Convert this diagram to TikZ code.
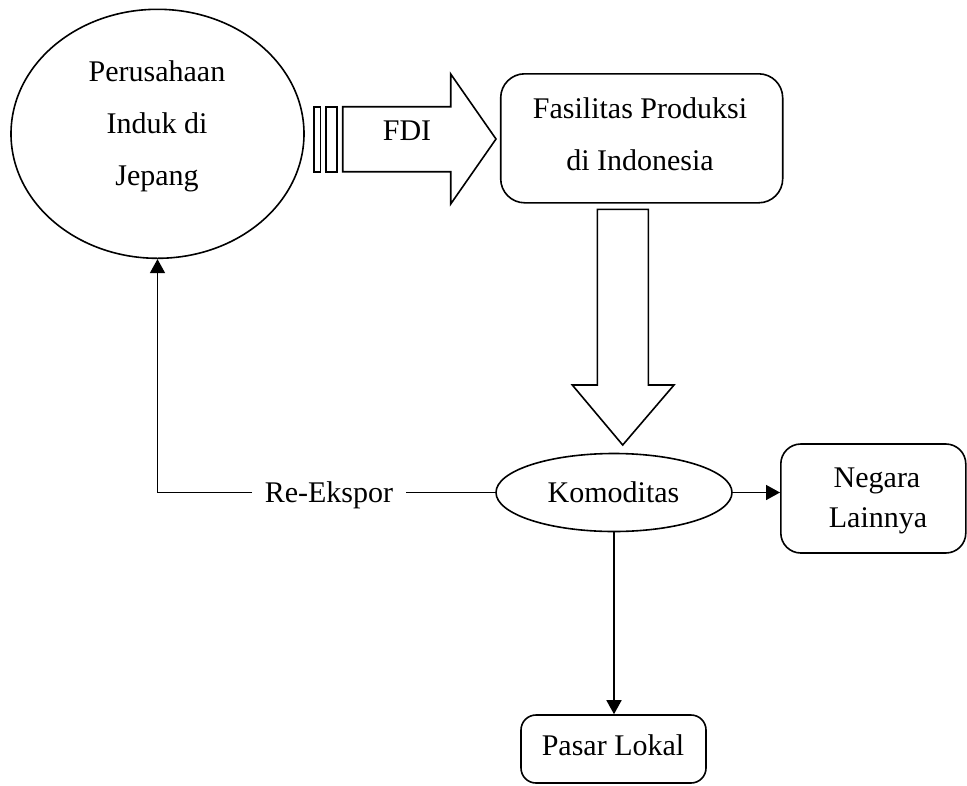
\documentclass[tikz,border=0pt]{standalone}
\usepackage{fontspec}
\setmainfont{Liberation Serif}
\usetikzlibrary{shapes.geometric,arrows.meta}
\begin{document}
\begin{tikzpicture}[x=1pt,y=-1pt, line width=1.6pt,
  lbl/.style={font=\fontsize{30}{36}\selectfont, inner sep=0pt, anchor=base},
  oval/.style={draw, ellipse, inner sep=0pt},
  rbox/.style={draw, rectangle, inner sep=0pt},
  arr/.style={-{Triangle[length=14pt,width=15pt]}},
  fat/.style={draw, line join=miter}]
\useasboundingbox (0,0) rectangle (967,785);

% Perusahaan Induk
\node[oval, minimum width=293pt, minimum height=249pt] (per) at (157.5,133.8) {};
\node[lbl] (perA) at (157,81.7) {Perusahaan};
\node[lbl] (perB) at (157,133.3) {Induk di};
\node[lbl] (perC) at (157,185) {Jepang};

% Fasilitas Produksi
\node[rbox, rounded corners=24pt, minimum width=282pt, minimum height=129pt] (fas) at (641.7,138.3) {};
\node[lbl] (fasA) at (640,118) {Fasilitas Produksi};
\node[lbl] (fasB) at (640,170) {di Indonesia};

% Komoditas
\node[oval, minimum width=236pt, minimum height=78pt] (kom) at (614,492.5) {};
\node[lbl] (komT) at (613.5,502) {Komoditas};

% Negara Lainnya
\node[rbox, rounded corners=20pt, minimum width=185pt, minimum height=109pt] (neg) at (873.3,498.5) {};
\node[lbl] (negA) at (877,487) {Negara};
\node[lbl] (negB) at (878,527) {Lainnya};

% Pasar Lokal
\node[rbox, rounded corners=15pt, minimum width=185pt, minimum height=68pt] (pas) at (613.5,749) {};
\node[lbl] (pasT) at (613,755) {Pasar Lokal};

% Re-Ekspor label
\node[lbl, inner xsep=12pt] (reex) at (329,502) {Re-Ekspor};

% FDI block arrow with striped tail
\draw (314,106.7) rectangle (320.5,171.7);
\draw (325.7,106.7) rectangle (337,171.7);
\draw[fat] (342.7,106.7) -- (450.7,106.7) -- (450.7,74) -- (496,139) -- (450.7,204) -- (450.7,171.7) -- (342.7,171.7) -- cycle;
\node[lbl] (fdi) at (407,140) {FDI};

% Down block arrow
\draw[fat] (597.3,209.3) -- (648.3,209.3) -- (648.3,385) -- (674,385) -- (622.7,445) -- (572.3,385) -- (597.3,385) -- cycle;

% Connectors
\coordinate (corner) at (per.south |- kom.west);
\draw (kom.west) -- (kom.west -| reex.east);
\draw[arr] (reex.west |- kom.west) -- (corner) -- (per.south);
\draw[arr] (kom.east) -- (kom.east -| neg.west);
\draw[arr] (kom.south) -- (kom.south |- pas.north);
\end{tikzpicture}
\end{document}
